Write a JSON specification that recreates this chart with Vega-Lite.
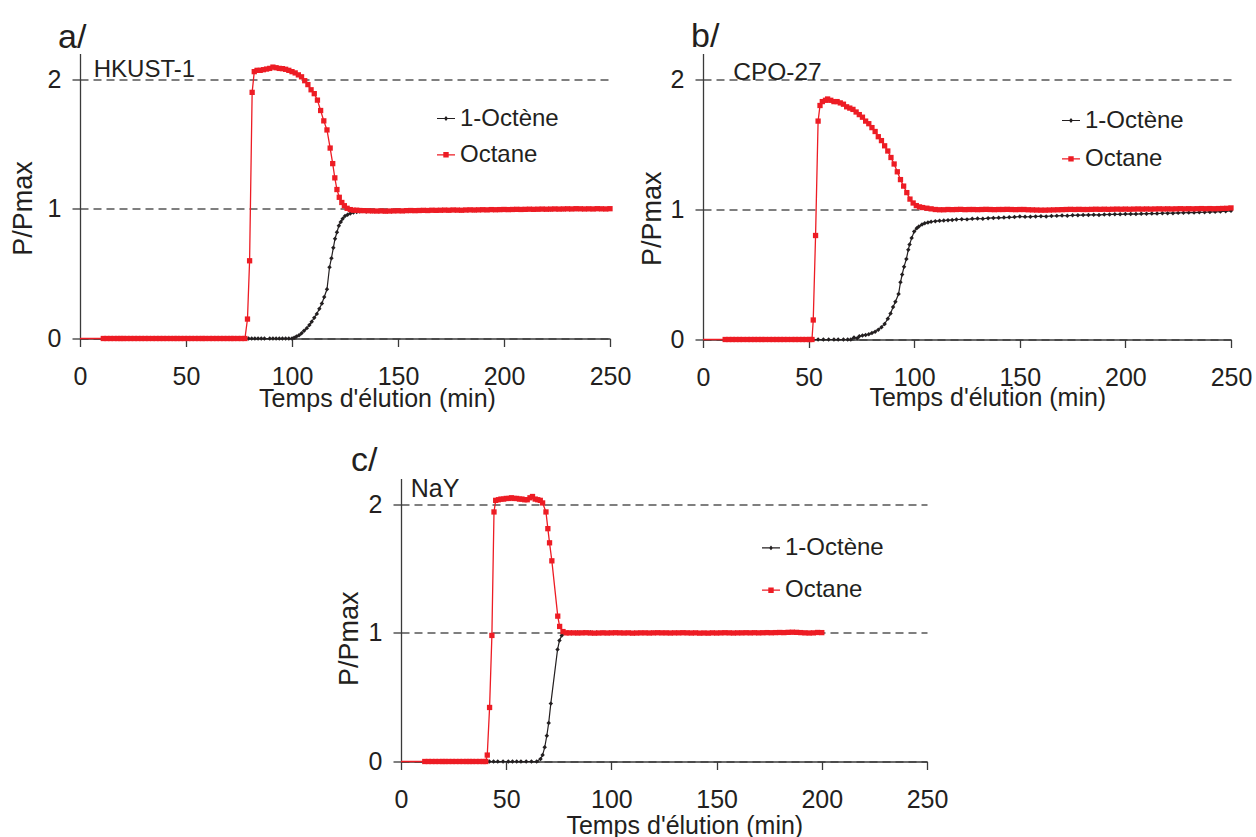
{
  "$schema": "https://vega.github.io/schema/vega-lite/v6.json",
  "padding": {"left": 9, "top": 19.5, "right": 5, "bottom": 0},
  "background": "white",
  "config": {
    "view": {"stroke": null},
    "font": "Liberation Sans",
    "axis": {
      "domainColor": "#3a3a3a", "domainWidth": 1.3,
      "tickColor": "#3a3a3a", "tickWidth": 1.3, "tickSize": 8,
      "labelFont": "Liberation Sans", "labelFontSize": 25, "labelColor": "#231f20",
      "labelFlush": false, "labelOverlap": false,
      "titleFont": "Liberation Sans", "titleFontWeight": "normal", "titleColor": "#231f20",
      "grid": false,
      "gridColor": "#000000", "gridDash": [8, 5], "gridWidth": 1.2, "gridOpacity": 1
    },
    "axisX": {"labelPadding": 18, "titleFontSize": 25, "titleBaseline": "top", "titleAlign": "center"},
    "axisY": {"labelPadding": 11, "titleFontSize": 27, "titleBaseline": "bottom", "titleAlign": "center", "titleAngle": 270},
    "legend": {"symbolStrokeWidth": 0, "padding": 0, "labelFont": "Liberation Sans", "labelFontSize": 24, "labelColor": "#231f20", "labelOffset": 2, "symbolSize": 324, "labelLimit": 300},
    "title": {"font": "Liberation Sans", "fontWeight": "normal", "fontSize": 34, "color": "#231f20", "anchor": "start", "frame": "group", "baseline": "alphabetic"}
  },
  "datasets": {
    "a": [
      {"s":"Octane","x":0,"y":0},
      {"s":"Octane","x":11,"y":0},{"s":"Octane","x":12.7,"y":0},{"s":"Octane","x":14.4,"y":0},{"s":"Octane","x":16.1,"y":0},{"s":"Octane","x":17.8,"y":0},{"s":"Octane","x":19.2,"y":0},
      {"s":"Octane","x":20.5,"y":0},{"s":"Octane","x":22.2,"y":0},{"s":"Octane","x":23.9,"y":0},{"s":"Octane","x":25.6,"y":0},{"s":"Octane","x":27.3,"y":0},{"s":"Octane","x":29,"y":0},{"s":"Octane","x":30.7,"y":0},{"s":"Octane","x":32.3,"y":0},
      {"s":"Octane","x":34.2,"y":0},{"s":"Octane","x":35.9,"y":0},{"s":"Octane","x":37.6,"y":0},{"s":"Octane","x":39.3,"y":0},{"s":"Octane","x":41,"y":0},{"s":"Octane","x":42.7,"y":0},{"s":"Octane","x":44.4,"y":0},{"s":"Octane","x":45.8,"y":0},
      {"s":"Octane","x":47.5,"y":0},{"s":"Octane","x":49.2,"y":0},{"s":"Octane","x":50.9,"y":0},{"s":"Octane","x":52.6,"y":0},{"s":"Octane","x":54.3,"y":0},{"s":"Octane","x":56,"y":0},{"s":"Octane","x":57.7,"y":0},{"s":"Octane","x":59,"y":0},
      {"s":"Octane","x":61,"y":0},{"s":"Octane","x":62.7,"y":0},{"s":"Octane","x":64.4,"y":0},{"s":"Octane","x":66.1,"y":0},{"s":"Octane","x":67.8,"y":0},{"s":"Octane","x":69.5,"y":0},{"s":"Octane","x":71.2,"y":0},{"s":"Octane","x":72.5,"y":0},
      {"s":"Octane","x":74.4,"y":0},{"s":"Octane","x":76.1,"y":0},{"s":"Octane","x":77.8,"y":0},
      {"s":"Octane","x":79,"y":0.15},{"s":"Octane","x":80,"y":0.6},{"s":"Octane","x":81.2,"y":1.9},{"s":"Octane","x":82.2,"y":2.06},{"s":"Octane","x":83.5,"y":2.07},{"s":"Octane","x":85,"y":2.07},
      {"s":"Octane","x":86.5,"y":2.075},{"s":"Octane","x":88,"y":2.08},{"s":"Octane","x":89.5,"y":2.085},{"s":"Octane","x":91,"y":2.095},{"s":"Octane","x":92.5,"y":2.09},{"s":"Octane","x":94,"y":2.085},
      {"s":"Octane","x":95.5,"y":2.083},{"s":"Octane","x":97,"y":2.078},{"s":"Octane","x":98.5,"y":2.07},{"s":"Octane","x":100,"y":2.06},{"s":"Octane","x":101.5,"y":2.05},{"s":"Octane","x":103,"y":2.035},
      {"s":"Octane","x":104.5,"y":2.02},{"s":"Octane","x":106,"y":1.99},{"s":"Octane","x":107.5,"y":1.96},{"s":"Octane","x":109,"y":1.92},{"s":"Octane","x":110.5,"y":1.89},{"s":"Octane","x":112,"y":1.84},
      {"s":"Octane","x":113.5,"y":1.76},{"s":"Octane","x":115,"y":1.68},{"s":"Octane","x":116.5,"y":1.61},{"s":"Octane","x":118,"y":1.47},{"s":"Octane","x":119.2,"y":1.35},{"s":"Octane","x":120.2,"y":1.24},
      {"s":"Octane","x":121.2,"y":1.15},{"s":"Octane","x":122.3,"y":1.09},{"s":"Octane","x":123.5,"y":1.05},{"s":"Octane","x":124.7,"y":1.025},{"s":"Octane","x":126,"y":1.005},{"s":"Octane","x":127.5,"y":0.995},
      {"s":"Octane","x":129,"y":0.99},{"s":"Octane","x":130.5,"y":0.99},
      {"s":"Octane","x":132,"y":0.988},{"s":"Octane","x":134,"y":0.987},{"s":"Octane","x":136,"y":0.986},{"s":"Octane","x":138,"y":0.985},{"s":"Octane","x":140,"y":0.984},{"s":"Octane","x":142,"y":0.985},
      {"s":"Octane","x":144,"y":0.983},{"s":"Octane","x":146,"y":0.984},{"s":"Octane","x":148,"y":0.985},{"s":"Octane","x":150,"y":0.986},{"s":"Octane","x":152,"y":0.985},{"s":"Octane","x":154,"y":0.987},
      {"s":"Octane","x":156,"y":0.988},{"s":"Octane","x":158,"y":0.987},{"s":"Octane","x":160,"y":0.988},{"s":"Octane","x":162,"y":0.989},{"s":"Octane","x":164,"y":0.988},{"s":"Octane","x":166,"y":0.99},
      {"s":"Octane","x":168,"y":0.989},{"s":"Octane","x":170,"y":0.99},{"s":"Octane","x":172,"y":0.991},{"s":"Octane","x":174,"y":0.99},{"s":"Octane","x":176,"y":0.992},{"s":"Octane","x":178,"y":0.991},
      {"s":"Octane","x":180,"y":0.99},{"s":"Octane","x":182,"y":0.992},{"s":"Octane","x":184,"y":0.993},{"s":"Octane","x":186,"y":0.992},{"s":"Octane","x":188,"y":0.993},{"s":"Octane","x":190,"y":0.994},
      {"s":"Octane","x":192,"y":0.993},{"s":"Octane","x":194,"y":0.995},{"s":"Octane","x":196,"y":0.994},{"s":"Octane","x":198,"y":0.995},{"s":"Octane","x":200,"y":0.996},{"s":"Octane","x":202,"y":0.995},
      {"s":"Octane","x":204,"y":0.996},{"s":"Octane","x":206,"y":0.997},{"s":"Octane","x":208,"y":0.996},{"s":"Octane","x":210,"y":0.997},{"s":"Octane","x":212,"y":0.998},{"s":"Octane","x":214,"y":0.997},
      {"s":"Octane","x":216,"y":0.998},{"s":"Octane","x":218,"y":0.999},{"s":"Octane","x":220,"y":0.998},{"s":"Octane","x":222,"y":0.999},{"s":"Octane","x":224,"y":1.0},{"s":"Octane","x":226,"y":0.999},
      {"s":"Octane","x":228,"y":1.0},{"s":"Octane","x":230,"y":1.001},{"s":"Octane","x":232,"y":1.0},{"s":"Octane","x":234,"y":1.002},{"s":"Octane","x":236,"y":1.001},{"s":"Octane","x":238,"y":1.0},
      {"s":"Octane","x":240,"y":1.001},{"s":"Octane","x":242,"y":1.0},{"s":"Octane","x":244,"y":1.002},{"s":"Octane","x":246,"y":1.001},{"s":"Octane","x":248,"y":1.0},{"s":"Octane","x":250,"y":1.002},
      {"s":"1-Octène","x":0,"y":0},
      {"s":"1-Octène","x":12,"y":0},{"s":"1-Octène","x":16,"y":0},{"s":"1-Octène","x":20,"y":0},{"s":"1-Octène","x":24,"y":0},{"s":"1-Octène","x":28,"y":0},{"s":"1-Octène","x":32,"y":0},
      {"s":"1-Octène","x":36,"y":0},{"s":"1-Octène","x":40,"y":0},{"s":"1-Octène","x":44,"y":0},{"s":"1-Octène","x":48,"y":0},{"s":"1-Octène","x":52,"y":0},{"s":"1-Octène","x":56,"y":0},
      {"s":"1-Octène","x":60,"y":0},{"s":"1-Octène","x":64,"y":0},{"s":"1-Octène","x":68,"y":0},{"s":"1-Octène","x":72,"y":0},{"s":"1-Octène","x":76,"y":0},
      {"s":"1-Octène","x":79.5,"y":0},{"s":"1-Octène","x":81,"y":0},{"s":"1-Octène","x":82.5,"y":0},{"s":"1-Octène","x":84,"y":0},{"s":"1-Octène","x":85.5,"y":0},{"s":"1-Octène","x":87,"y":0},
      {"s":"1-Octène","x":89.5,"y":0},{"s":"1-Octène","x":91,"y":0},{"s":"1-Octène","x":92.5,"y":0},{"s":"1-Octène","x":94,"y":0},{"s":"1-Octène","x":95.5,"y":0},{"s":"1-Octène","x":97,"y":0},
      {"s":"1-Octène","x":98.5,"y":0},{"s":"1-Octène","x":100,"y":0},
      {"s":"1-Octène","x":101,"y":0.005},{"s":"1-Octène","x":102.1,"y":0.015},{"s":"1-Octène","x":103.3,"y":0.025},{"s":"1-Octène","x":104.5,"y":0.04},{"s":"1-Octène","x":105.7,"y":0.06},
      {"s":"1-Octène","x":107,"y":0.08},{"s":"1-Octène","x":108.2,"y":0.105},{"s":"1-Octène","x":109.3,"y":0.13},{"s":"1-Octène","x":110.5,"y":0.16},{"s":"1-Octène","x":111.7,"y":0.19},
      {"s":"1-Octène","x":112.9,"y":0.23},{"s":"1-Octène","x":114.1,"y":0.27},{"s":"1-Octène","x":115.2,"y":0.32},{"s":"1-Octène","x":116.5,"y":0.38},{"s":"1-Octène","x":117.7,"y":0.55},
      {"s":"1-Octène","x":118.6,"y":0.62},{"s":"1-Octène","x":119.5,"y":0.7},{"s":"1-Octène","x":120.3,"y":0.77},{"s":"1-Octène","x":121.2,"y":0.82},{"s":"1-Octène","x":122.1,"y":0.87},
      {"s":"1-Octène","x":123,"y":0.9},{"s":"1-Octène","x":123.9,"y":0.925},{"s":"1-Octène","x":125,"y":0.945},{"s":"1-Octène","x":126.2,"y":0.955},{"s":"1-Octène","x":127.5,"y":0.965},
      {"s":"1-Octène","x":129,"y":0.972},{"s":"1-Octène","x":130.5,"y":0.977},{"s":"1-Octène","x":132,"y":0.98},
      {"s":"1-Octène","x":135,"y":0.981},{"s":"1-Octène","x":138,"y":0.982},{"s":"1-Octène","x":141,"y":0.982},{"s":"1-Octène","x":144,"y":0.983},{"s":"1-Octène","x":147,"y":0.983},
      {"s":"1-Octène","x":150,"y":0.984},{"s":"1-Octène","x":153,"y":0.984},{"s":"1-Octène","x":156,"y":0.985},{"s":"1-Octène","x":159,"y":0.986},{"s":"1-Octène","x":162,"y":0.986},
      {"s":"1-Octène","x":165,"y":0.987},{"s":"1-Octène","x":168,"y":0.987},{"s":"1-Octène","x":171,"y":0.988},{"s":"1-Octène","x":174,"y":0.988},{"s":"1-Octène","x":177,"y":0.989},
      {"s":"1-Octène","x":180,"y":0.989},{"s":"1-Octène","x":183,"y":0.99},{"s":"1-Octène","x":186,"y":0.99},{"s":"1-Octène","x":189,"y":0.991},{"s":"1-Octène","x":192,"y":0.991},
      {"s":"1-Octène","x":195,"y":0.992},{"s":"1-Octène","x":198,"y":0.992},{"s":"1-Octène","x":201,"y":0.993},{"s":"1-Octène","x":204,"y":0.993},{"s":"1-Octène","x":207,"y":0.994},
      {"s":"1-Octène","x":210,"y":0.994},{"s":"1-Octène","x":213,"y":0.995},{"s":"1-Octène","x":216,"y":0.995},{"s":"1-Octène","x":219,"y":0.996},{"s":"1-Octène","x":222,"y":0.996},
      {"s":"1-Octène","x":225,"y":0.997},{"s":"1-Octène","x":228,"y":0.997},{"s":"1-Octène","x":231,"y":0.998},{"s":"1-Octène","x":234,"y":0.998},{"s":"1-Octène","x":237,"y":0.999},
      {"s":"1-Octène","x":240,"y":0.999},{"s":"1-Octène","x":243,"y":1.0},{"s":"1-Octène","x":246,"y":1.0},{"s":"1-Octène","x":249,"y":1.0}
    ],
    "b": [
      {"s":"Octane","x":0,"y":0},
      {"s":"Octane","x":10.5,"y":0},{"s":"Octane","x":12.2,"y":0},{"s":"Octane","x":13.9,"y":0},{"s":"Octane","x":15.6,"y":0},{"s":"Octane","x":17.3,"y":0},{"s":"Octane","x":19,"y":0},
      {"s":"Octane","x":21,"y":0},{"s":"Octane","x":22.7,"y":0},{"s":"Octane","x":24.4,"y":0},{"s":"Octane","x":26.1,"y":0},{"s":"Octane","x":27.8,"y":0},{"s":"Octane","x":29.5,"y":0},
      {"s":"Octane","x":31.5,"y":0},{"s":"Octane","x":33.2,"y":0},{"s":"Octane","x":34.9,"y":0},{"s":"Octane","x":36.6,"y":0},{"s":"Octane","x":38.3,"y":0},{"s":"Octane","x":40,"y":0},
      {"s":"Octane","x":42,"y":0},{"s":"Octane","x":43.7,"y":0},{"s":"Octane","x":45.4,"y":0},{"s":"Octane","x":47.1,"y":0},{"s":"Octane","x":48.8,"y":0},{"s":"Octane","x":50.5,"y":0},{"s":"Octane","x":51.6,"y":0},
      {"s":"Octane","x":52.2,"y":0.15},{"s":"Octane","x":53.3,"y":0.8},{"s":"Octane","x":54.5,"y":1.68},{"s":"Octane","x":55.4,"y":1.8},{"s":"Octane","x":56.5,"y":1.83},{"s":"Octane","x":58,"y":1.84},
      {"s":"Octane","x":59,"y":1.85},{"s":"Octane","x":60.5,"y":1.84},{"s":"Octane","x":62,"y":1.83},{"s":"Octane","x":63.5,"y":1.83},{"s":"Octane","x":65,"y":1.82},{"s":"Octane","x":66.5,"y":1.81},
      {"s":"Octane","x":68,"y":1.79},{"s":"Octane","x":69.5,"y":1.78},{"s":"Octane","x":71,"y":1.77},{"s":"Octane","x":72.5,"y":1.75},{"s":"Octane","x":74,"y":1.73},{"s":"Octane","x":75.5,"y":1.71},
      {"s":"Octane","x":77,"y":1.68},{"s":"Octane","x":78.5,"y":1.66},{"s":"Octane","x":80,"y":1.63},{"s":"Octane","x":81.5,"y":1.6},{"s":"Octane","x":83,"y":1.56},{"s":"Octane","x":84.5,"y":1.53},
      {"s":"Octane","x":86,"y":1.49},{"s":"Octane","x":87.5,"y":1.45},{"s":"Octane","x":89,"y":1.4},{"s":"Octane","x":90.5,"y":1.35},{"s":"Octane","x":92,"y":1.29},{"s":"Octane","x":93.5,"y":1.23},
      {"s":"Octane","x":95,"y":1.18},{"s":"Octane","x":96.5,"y":1.13},{"s":"Octane","x":98,"y":1.08},{"s":"Octane","x":99.5,"y":1.05},{"s":"Octane","x":101,"y":1.03},{"s":"Octane","x":102.5,"y":1.02},
      {"s":"Octane","x":104,"y":1.015},{"s":"Octane","x":106,"y":1.01},{"s":"Octane","x":108,"y":1.005},{"s":"Octane","x":110,"y":1.0},{"s":"Octane","x":112,"y":0.998},
      {"s":"Octane","x":114,"y":0.998},{"s":"Octane","x":116,"y":1.0},{"s":"Octane","x":118,"y":0.999},{"s":"Octane","x":120,"y":1.0},{"s":"Octane","x":122,"y":1.001},{"s":"Octane","x":124,"y":0.999},
      {"s":"Octane","x":126,"y":1.0},{"s":"Octane","x":128,"y":1.0},{"s":"Octane","x":130,"y":0.999},{"s":"Octane","x":132,"y":1.0},{"s":"Octane","x":134,"y":1.001},{"s":"Octane","x":136,"y":1.0},
      {"s":"Octane","x":138,"y":0.999},{"s":"Octane","x":140,"y":1.0},{"s":"Octane","x":142,"y":1.0},{"s":"Octane","x":144,"y":1.001},{"s":"Octane","x":146,"y":1.0},{"s":"Octane","x":148,"y":0.999},
      {"s":"Octane","x":150,"y":1.0},{"s":"Octane","x":152,"y":1.0},{"s":"Octane","x":154,"y":0.998},{"s":"Octane","x":156,"y":0.997},{"s":"Octane","x":158,"y":0.996},{"s":"Octane","x":160,"y":0.995},
      {"s":"Octane","x":162,"y":0.995},{"s":"Octane","x":164,"y":0.996},{"s":"Octane","x":166,"y":0.997},{"s":"Octane","x":168,"y":0.998},{"s":"Octane","x":170,"y":0.999},{"s":"Octane","x":172,"y":1.0},
      {"s":"Octane","x":174,"y":1.001},{"s":"Octane","x":176,"y":1.0},{"s":"Octane","x":178,"y":1.001},{"s":"Octane","x":180,"y":1.0},{"s":"Octane","x":182,"y":1.0},{"s":"Octane","x":184,"y":1.001},
      {"s":"Octane","x":186,"y":1.002},{"s":"Octane","x":188,"y":1.001},{"s":"Octane","x":190,"y":1.002},{"s":"Octane","x":192,"y":1.001},{"s":"Octane","x":194,"y":1.002},{"s":"Octane","x":196,"y":1.003},
      {"s":"Octane","x":198,"y":1.002},{"s":"Octane","x":200,"y":1.003},{"s":"Octane","x":202,"y":1.002},{"s":"Octane","x":204,"y":1.003},{"s":"Octane","x":206,"y":1.004},{"s":"Octane","x":208,"y":1.003},
      {"s":"Octane","x":210,"y":1.004},{"s":"Octane","x":212,"y":1.003},{"s":"Octane","x":214,"y":1.004},{"s":"Octane","x":216,"y":1.005},{"s":"Octane","x":218,"y":1.004},{"s":"Octane","x":220,"y":1.005},
      {"s":"Octane","x":222,"y":1.004},{"s":"Octane","x":224,"y":1.005},{"s":"Octane","x":226,"y":1.006},{"s":"Octane","x":228,"y":1.005},{"s":"Octane","x":230,"y":1.006},{"s":"Octane","x":232,"y":1.005},
      {"s":"Octane","x":234,"y":1.006},{"s":"Octane","x":236,"y":1.007},{"s":"Octane","x":238,"y":1.006},{"s":"Octane","x":240,"y":1.007},{"s":"Octane","x":242,"y":1.006},{"s":"Octane","x":244,"y":1.007},
      {"s":"Octane","x":246,"y":1.008},{"s":"Octane","x":248,"y":1.009},{"s":"Octane","x":250,"y":1.012},
      {"s":"1-Octène","x":0,"y":0},
      {"s":"1-Octène","x":12,"y":0},{"s":"1-Octène","x":16,"y":0},{"s":"1-Octène","x":20,"y":0},{"s":"1-Octène","x":24,"y":0},{"s":"1-Octène","x":28,"y":0},{"s":"1-Octène","x":32,"y":0},
      {"s":"1-Octène","x":36,"y":0},{"s":"1-Octène","x":40,"y":0},{"s":"1-Octène","x":44,"y":0},{"s":"1-Octène","x":48,"y":0},{"s":"1-Octène","x":52,"y":0},
      {"s":"1-Octène","x":54.5,"y":0},{"s":"1-Octène","x":57,"y":0},{"s":"1-Octène","x":59.5,"y":0},{"s":"1-Octène","x":62,"y":0},{"s":"1-Octène","x":64,"y":0},{"s":"1-Octène","x":66.5,"y":0},
      {"s":"1-Octène","x":68.5,"y":0},{"s":"1-Octène","x":70,"y":0},{"s":"1-Octène","x":71.5,"y":0.015},{"s":"1-Octène","x":73,"y":0.01},{"s":"1-Octène","x":74,"y":0.025},{"s":"1-Octène","x":75.5,"y":0.03},
      {"s":"1-Octène","x":77,"y":0.035},{"s":"1-Octène","x":78.5,"y":0.04},{"s":"1-Octène","x":80,"y":0.05},{"s":"1-Octène","x":81.5,"y":0.06},{"s":"1-Octène","x":83,"y":0.075},{"s":"1-Octène","x":84.5,"y":0.095},
      {"s":"1-Octène","x":86,"y":0.12},{"s":"1-Octène","x":87.5,"y":0.16},{"s":"1-Octène","x":88.8,"y":0.2},{"s":"1-Octène","x":90,"y":0.25},{"s":"1-Octène","x":91.1,"y":0.29},{"s":"1-Octène","x":92.6,"y":0.35},
      {"s":"1-Octène","x":93.5,"y":0.44},{"s":"1-Octène","x":94.3,"y":0.5},{"s":"1-Octène","x":95.2,"y":0.56},{"s":"1-Octène","x":96.3,"y":0.62},{"s":"1-Octène","x":97.2,"y":0.69},{"s":"1-Octène","x":97.8,"y":0.73},
      {"s":"1-Octène","x":98.8,"y":0.78},{"s":"1-Octène","x":100,"y":0.83},{"s":"1-Octène","x":101.2,"y":0.855},{"s":"1-Octène","x":102.2,"y":0.87},{"s":"1-Octène","x":103.7,"y":0.885},{"s":"1-Octène","x":105,"y":0.895},
      {"s":"1-Octène","x":106.5,"y":0.9},{"s":"1-Octène","x":108,"y":0.905},{"s":"1-Octène","x":110,"y":0.91},{"s":"1-Octène","x":112,"y":0.913},{"s":"1-Octène","x":114,"y":0.915},{"s":"1-Octène","x":116,"y":0.918},
      {"s":"1-Octène","x":118,"y":0.92},{"s":"1-Octène","x":120,"y":0.923},
      {"s":"1-Octène","x":122.5,"y":0.925},{"s":"1-Octène","x":125,"y":0.924},{"s":"1-Octène","x":127.5,"y":0.928},{"s":"1-Octène","x":130,"y":0.93},{"s":"1-Octène","x":132.5,"y":0.929},{"s":"1-Octène","x":135,"y":0.933},
      {"s":"1-Octène","x":137.5,"y":0.935},{"s":"1-Octène","x":140,"y":0.936},{"s":"1-Octène","x":142.5,"y":0.938},{"s":"1-Octène","x":145,"y":0.94},{"s":"1-Octène","x":147.5,"y":0.942},{"s":"1-Octène","x":150,"y":0.946},
      {"s":"1-Octène","x":152.5,"y":0.944},{"s":"1-Octène","x":155,"y":0.945},{"s":"1-Octène","x":157.5,"y":0.947},{"s":"1-Octène","x":160,"y":0.948},{"s":"1-Octène","x":162.5,"y":0.947},{"s":"1-Octène","x":165,"y":0.95},
      {"s":"1-Octène","x":167.5,"y":0.951},{"s":"1-Octène","x":170,"y":0.953},{"s":"1-Octène","x":172.5,"y":0.952},{"s":"1-Octène","x":175,"y":0.955},{"s":"1-Octène","x":177.5,"y":0.956},{"s":"1-Octène","x":180,"y":0.957},
      {"s":"1-Octène","x":182.5,"y":0.958},{"s":"1-Octène","x":185,"y":0.959},{"s":"1-Octène","x":187.5,"y":0.958},{"s":"1-Octène","x":190,"y":0.961},{"s":"1-Octène","x":192.5,"y":0.962},{"s":"1-Octène","x":195,"y":0.963},
      {"s":"1-Octène","x":197.5,"y":0.963},{"s":"1-Octène","x":200,"y":0.965},{"s":"1-Octène","x":202.5,"y":0.966},{"s":"1-Octène","x":205,"y":0.965},{"s":"1-Octène","x":207.5,"y":0.967},{"s":"1-Octène","x":210,"y":0.968},
      {"s":"1-Octène","x":212.5,"y":0.969},{"s":"1-Octène","x":215,"y":0.969},{"s":"1-Octène","x":217.5,"y":0.971},{"s":"1-Octène","x":220,"y":0.972},{"s":"1-Octène","x":222.5,"y":0.972},{"s":"1-Octène","x":225,"y":0.974},
      {"s":"1-Octène","x":227.5,"y":0.975},{"s":"1-Octène","x":230,"y":0.976},{"s":"1-Octène","x":232.5,"y":0.976},{"s":"1-Octène","x":235,"y":0.978},{"s":"1-Octène","x":237.5,"y":0.979},{"s":"1-Octène","x":240,"y":0.981},
      {"s":"1-Octène","x":242.5,"y":0.982},{"s":"1-Octène","x":245,"y":0.984},{"s":"1-Octène","x":247.5,"y":0.987},{"s":"1-Octène","x":250,"y":0.99}
    ],
    "c": [
      {"s":"Octane","x":0,"y":0},
      {"s":"Octane","x":11.3,"y":0},{"s":"Octane","x":13,"y":0},{"s":"Octane","x":14.7,"y":0},{"s":"Octane","x":16.4,"y":0},{"s":"Octane","x":18.1,"y":0},{"s":"Octane","x":19.8,"y":0},
      {"s":"Octane","x":21,"y":0},{"s":"Octane","x":22.7,"y":0},{"s":"Octane","x":24.4,"y":0},{"s":"Octane","x":26.1,"y":0},{"s":"Octane","x":27.8,"y":0},{"s":"Octane","x":29.5,"y":0},{"s":"Octane","x":31.2,"y":0},{"s":"Octane","x":32.5,"y":0},
      {"s":"Octane","x":34,"y":0},{"s":"Octane","x":35.7,"y":0},{"s":"Octane","x":37.4,"y":0},{"s":"Octane","x":39.1,"y":0},{"s":"Octane","x":40.3,"y":0},
      {"s":"Octane","x":41,"y":0.05},{"s":"Octane","x":42.1,"y":0.42},{"s":"Octane","x":43.2,"y":0.98},{"s":"Octane","x":44.2,"y":1.94},{"s":"Octane","x":45,"y":2.03},{"s":"Octane","x":46.3,"y":2.035},
      {"s":"Octane","x":47.5,"y":2.04},{"s":"Octane","x":48.8,"y":2.04},{"s":"Octane","x":50,"y":2.045},{"s":"Octane","x":51.3,"y":2.045},{"s":"Octane","x":52.5,"y":2.05},{"s":"Octane","x":53.8,"y":2.045},
      {"s":"Octane","x":55,"y":2.045},{"s":"Octane","x":56.3,"y":2.04},{"s":"Octane","x":57.5,"y":2.04},{"s":"Octane","x":58.8,"y":2.035},{"s":"Octane","x":60,"y":2.035},{"s":"Octane","x":61.3,"y":2.05},
      {"s":"Octane","x":62.5,"y":2.06},{"s":"Octane","x":63.8,"y":2.04},{"s":"Octane","x":65,"y":2.035},{"s":"Octane","x":66.2,"y":2.03},{"s":"Octane","x":67.3,"y":2.01},{"s":"Octane","x":68.9,"y":1.94},
      {"s":"Octane","x":69.8,"y":1.81},{"s":"Octane","x":70.6,"y":1.7},{"s":"Octane","x":71.7,"y":1.56},{"s":"Octane","x":74.5,"y":1.13},{"s":"Octane","x":75.4,"y":1.05},{"s":"Octane","x":77,"y":1.01},
      {"s":"Octane","x":78.5,"y":1.0},{"s":"Octane","x":80,"y":1.0},
      {"s":"Octane","x":82,"y":1.0},{"s":"Octane","x":84,"y":0.999},{"s":"Octane","x":86,"y":1.0},{"s":"Octane","x":88,"y":1.001},{"s":"Octane","x":90,"y":0.999},{"s":"Octane","x":92,"y":0.998},
      {"s":"Octane","x":94,"y":0.999},{"s":"Octane","x":96,"y":1.0},{"s":"Octane","x":98,"y":0.999},{"s":"Octane","x":100,"y":1.0},{"s":"Octane","x":102,"y":1.001},{"s":"Octane","x":104,"y":1.0},
      {"s":"Octane","x":106,"y":0.999},{"s":"Octane","x":108,"y":1.0},{"s":"Octane","x":110,"y":0.998},{"s":"Octane","x":112,"y":0.999},{"s":"Octane","x":114,"y":1.0},{"s":"Octane","x":116,"y":1.0},
      {"s":"Octane","x":118,"y":0.999},{"s":"Octane","x":120,"y":1.0},{"s":"Octane","x":122,"y":1.001},{"s":"Octane","x":124,"y":1.0},{"s":"Octane","x":126,"y":1.0},{"s":"Octane","x":128,"y":0.999},
      {"s":"Octane","x":130,"y":1.0},{"s":"Octane","x":132,"y":1.0},{"s":"Octane","x":134,"y":1.001},{"s":"Octane","x":136,"y":1.0},{"s":"Octane","x":138,"y":0.999},{"s":"Octane","x":140,"y":1.0},
      {"s":"Octane","x":142,"y":0.998},{"s":"Octane","x":144,"y":0.999},{"s":"Octane","x":146,"y":0.998},{"s":"Octane","x":148,"y":1.0},{"s":"Octane","x":150,"y":0.999},{"s":"Octane","x":152,"y":1.0},
      {"s":"Octane","x":154,"y":1.001},{"s":"Octane","x":156,"y":1.0},{"s":"Octane","x":158,"y":0.999},{"s":"Octane","x":160,"y":1.0},{"s":"Octane","x":162,"y":1.0},{"s":"Octane","x":164,"y":1.001},
      {"s":"Octane","x":166,"y":1.0},{"s":"Octane","x":168,"y":1.001},{"s":"Octane","x":170,"y":1.0},{"s":"Octane","x":172,"y":1.001},{"s":"Octane","x":174,"y":1.002},{"s":"Octane","x":176,"y":1.001},
      {"s":"Octane","x":178,"y":1.002},{"s":"Octane","x":180,"y":1.003},{"s":"Octane","x":182,"y":1.002},{"s":"Octane","x":184,"y":1.004},{"s":"Octane","x":186,"y":1.005},{"s":"Octane","x":188,"y":1.004},
      {"s":"Octane","x":190,"y":1.002},{"s":"Octane","x":192,"y":1.0},{"s":"Octane","x":194,"y":0.999},{"s":"Octane","x":196,"y":1.0},{"s":"Octane","x":198,"y":1.003},{"s":"Octane","x":200,"y":1.002},
      {"s":"1-Octène","x":0,"y":0},
      {"s":"1-Octène","x":12,"y":0},{"s":"1-Octène","x":16,"y":0},{"s":"1-Octène","x":20,"y":0},{"s":"1-Octène","x":24,"y":0},{"s":"1-Octène","x":28,"y":0},{"s":"1-Octène","x":32,"y":0},
      {"s":"1-Octène","x":36,"y":0},{"s":"1-Octène","x":40,"y":0},
      {"s":"1-Octène","x":42,"y":0},{"s":"1-Octène","x":44,"y":0},{"s":"1-Octène","x":46,"y":0},{"s":"1-Octène","x":48.5,"y":0},{"s":"1-Octène","x":51,"y":0},{"s":"1-Octène","x":53,"y":0},
      {"s":"1-Octène","x":55,"y":0},{"s":"1-Octène","x":57,"y":0},{"s":"1-Octène","x":59.5,"y":0},{"s":"1-Octène","x":62,"y":0},{"s":"1-Octène","x":64.5,"y":0},
      {"s":"1-Octène","x":66.3,"y":0.02},{"s":"1-Octène","x":67.3,"y":0.05},{"s":"1-Octène","x":68.3,"y":0.11},{"s":"1-Octène","x":69.3,"y":0.2},{"s":"1-Octène","x":70.2,"y":0.3},{"s":"1-Octène","x":71.2,"y":0.45},
      {"s":"1-Octène","x":74.4,"y":0.87},{"s":"1-Octène","x":75.3,"y":0.94},{"s":"1-Octène","x":76.4,"y":0.98},{"s":"1-Octène","x":77.8,"y":1.0},{"s":"1-Octène","x":79,"y":1.0},
      {"s":"1-Octène","x":81,"y":1.003},{"s":"1-Octène","x":84,"y":1.004},{"s":"1-Octène","x":87,"y":1.005},{"s":"1-Octène","x":90,"y":1.004},{"s":"1-Octène","x":93,"y":1.003},{"s":"1-Octène","x":96,"y":1.002},
      {"s":"1-Octène","x":99,"y":1.001},{"s":"1-Octène","x":102,"y":1.0},{"s":"1-Octène","x":105,"y":1.001},{"s":"1-Octène","x":108,"y":1.0},{"s":"1-Octène","x":111,"y":0.999},{"s":"1-Octène","x":114,"y":1.0},
      {"s":"1-Octène","x":117,"y":1.0},{"s":"1-Octène","x":120,"y":1.001},{"s":"1-Octène","x":123,"y":1.0},{"s":"1-Octène","x":126,"y":0.999},{"s":"1-Octène","x":129,"y":1.0},{"s":"1-Octène","x":132,"y":1.0},
      {"s":"1-Octène","x":135,"y":1.001},{"s":"1-Octène","x":138,"y":1.0},{"s":"1-Octène","x":141,"y":0.999},{"s":"1-Octène","x":144,"y":1.0},{"s":"1-Octène","x":147,"y":1.0},{"s":"1-Octène","x":150,"y":1.0},
      {"s":"1-Octène","x":153,"y":1.001},{"s":"1-Octène","x":156,"y":1.0},{"s":"1-Octène","x":159,"y":1.0},{"s":"1-Octène","x":162,"y":1.001},{"s":"1-Octène","x":165,"y":1.0},{"s":"1-Octène","x":168,"y":1.001},
      {"s":"1-Octène","x":171,"y":1.001},{"s":"1-Octène","x":174,"y":1.002},{"s":"1-Octène","x":177,"y":1.002},{"s":"1-Octène","x":180,"y":1.003},{"s":"1-Octène","x":183,"y":1.003},{"s":"1-Octène","x":186,"y":1.004},
      {"s":"1-Octène","x":189,"y":1.003},{"s":"1-Octène","x":192,"y":1.001},{"s":"1-Octène","x":195,"y":1.0},{"s":"1-Octène","x":198,"y":1.002},{"s":"1-Octène","x":200,"y":1.002}
    ]
  },
  "vconcat": [
    {
      "hconcat": [
        {
          "width": 530, "height": 285,
          "title": {"text": "a/", "dx": -22, "offset": -1.2},
          "data": {"name": "a"},
          "encoding": {
            "x": {"field": "x", "type": "quantitative", "title": "Temps d'élution (min)", "scale": {"domain": [0, 250], "nice": false, "zero": false}, "axis": {"values": [0, 50, 100, 150, 200, 250], "titleX": 297, "titleY": 48}},
            "y": {"field": "y", "type": "quantitative", "title": "P/Pmax", "scale": {"domain": [0, 2.2], "nice": false}, "axis": {"values": [0, 1, 2], "grid": true, "titleX": -42.3, "titleY": 154.5}},
            "color": {"field": "s", "type": "nominal", "scale": {"domain": ["1-Octène", "Octane"], "range": ["#231f20", "#ed1c24"]},
              "legend": {"title": null, "orient": "none", "legendX": 354, "legendY": 53, "rowPadding": 12.3,
                "encode": {"symbols": {"update": {
                  "shape": {"signal": "datum.value === 'Octane' ? 'M-1,-0.07H1V0.07H-1Z M-0.3,-0.3H0.3V0.3H-0.3Z' : 'M-1,-0.06H1V0.06H-1Z M0,-0.27L0.22,0L0,0.27L-0.22,0Z'"},
                  "fill": {"signal": "datum.value === 'Octane' ? '#ed1c24' : '#231f20'"},
                  "stroke": {"value": "transparent"}, "strokeWidth": {"value": 0}, "opacity": {"value": 1}}}}}}
          },
          "layer": [
            {"transform": [{"filter": "datum.s === '1-Octène'"}], "mark": {"type": "line", "strokeWidth": 1.2}},
            {"transform": [{"filter": "datum.s === '1-Octène' && datum.x > 0"}], "mark": {"type": "point", "shape": "diamond", "filled": true, "size": 20, "opacity": 1}},
            {"transform": [{"filter": "datum.s === 'Octane'"}], "mark": {"type": "line", "strokeWidth": 1.3}},
            {"transform": [{"filter": "datum.s === 'Octane' && datum.x > 0"}], "mark": {"type": "point", "shape": "square", "filled": true, "size": 28, "opacity": 1}},
            {"data": {"values": [{"t": "HKUST-1", "x": 6.5, "y": 2.022}]}, "mark": {"type": "text", "align": "left", "baseline": "alphabetic", "fontSize": 24, "font": "Liberation Sans", "color": "#231f20"},
              "encoding": {"text": {"field": "t", "type": "nominal"}, "color": {"value": "#231f20"}}}
          ]
        },
        {
          "width": 528, "height": 286,
          "title": {"text": "b/", "dx": -12, "offset": -0.9},
          "data": {"name": "b"},
          "encoding": {
            "x": {"field": "x", "type": "quantitative", "title": "Temps d'élution (min)", "scale": {"domain": [0, 250], "nice": false, "zero": false}, "axis": {"values": [0, 50, 100, 150, 200, 250], "titleX": 284.3, "titleY": 45.6}},
            "y": {"field": "y", "type": "quantitative", "title": "P/Pmax", "scale": {"domain": [0, 2.2], "nice": false}, "axis": {"values": [0, 1, 2], "grid": true, "titleX": -36.1, "titleY": 164.7}},
            "color": {"field": "s", "type": "nominal", "scale": {"domain": ["1-Octène", "Octane"], "range": ["#231f20", "#ed1c24"]},
              "legend": {"title": null, "orient": "none", "legendX": 356, "legendY": 55, "rowPadding": 14.4,
                "encode": {"symbols": {"update": {
                  "shape": {"signal": "datum.value === 'Octane' ? 'M-1,-0.07H1V0.07H-1Z M-0.3,-0.3H0.3V0.3H-0.3Z' : 'M-1,-0.06H1V0.06H-1Z M0,-0.27L0.22,0L0,0.27L-0.22,0Z'"},
                  "fill": {"signal": "datum.value === 'Octane' ? '#ed1c24' : '#231f20'"},
                  "stroke": {"value": "transparent"}, "strokeWidth": {"value": 0}, "opacity": {"value": 1}}}}}}
          },
          "layer": [
            {"transform": [{"filter": "datum.s === '1-Octène'"}], "mark": {"type": "line", "strokeWidth": 1.2}},
            {"transform": [{"filter": "datum.s === '1-Octène' && datum.x > 0"}], "mark": {"type": "point", "shape": "diamond", "filled": true, "size": 20, "opacity": 1}},
            {"transform": [{"filter": "datum.s === 'Octane'"}], "mark": {"type": "line", "strokeWidth": 1.3}},
            {"transform": [{"filter": "datum.s === 'Octane' && datum.x > 0"}], "mark": {"type": "point", "shape": "square", "filled": true, "size": 28, "opacity": 1}},
            {"data": {"values": [{"t": "CPO-27", "x": 14.3, "y": 1.995}]}, "mark": {"type": "text", "align": "left", "baseline": "alphabetic", "fontSize": 24.5, "font": "Liberation Sans", "color": "#231f20"},
              "encoding": {"text": {"field": "t", "type": "nominal"}, "color": {"value": "#231f20"}}}
          ]
        }
      ],
      "spacing": 93,
      "bounds": "flush",
      "resolve": {"scale": {"x": "independent", "y": "independent", "color": "independent"}, "legend": {"color": "independent"}}
    },
    {
      "hconcat": [
        {"width": 301, "height": 283, "data": {"values": [{"v": 0}]}, "mark": {"type": "text", "text": ""}},
        {
          "width": 526, "height": 283,
          "title": {"text": "c/", "dx": -50, "offset": -0.9},
          "data": {"name": "c"},
          "encoding": {
            "x": {"field": "x", "type": "quantitative", "title": "Temps d'élution (min)", "scale": {"domain": [0, 250], "nice": false, "zero": false}, "axis": {"values": [0, 50, 100, 150, 200, 250], "titleX": 283.3, "titleY": 52}},
            "y": {"field": "y", "type": "quantitative", "title": "P/Pmax", "scale": {"domain": [0, 2.2], "nice": false}, "axis": {"values": [0, 1, 2], "grid": true, "titleX": -38, "titleY": 159.7}},
            "color": {"field": "s", "type": "nominal", "scale": {"domain": ["1-Octène", "Octane"], "range": ["#231f20", "#ed1c24"]},
              "legend": {"title": null, "orient": "none", "legendX": 358, "legendY": 57.4, "rowPadding": 18.3,
                "encode": {"symbols": {"update": {
                  "shape": {"signal": "datum.value === 'Octane' ? 'M-1,-0.07H1V0.07H-1Z M-0.3,-0.3H0.3V0.3H-0.3Z' : 'M-1,-0.06H1V0.06H-1Z M0,-0.27L0.22,0L0,0.27L-0.22,0Z'"},
                  "fill": {"signal": "datum.value === 'Octane' ? '#ed1c24' : '#231f20'"},
                  "stroke": {"value": "transparent"}, "strokeWidth": {"value": 0}, "opacity": {"value": 1}}}}}}
          },
          "layer": [
            {"transform": [{"filter": "datum.s === '1-Octène'"}], "mark": {"type": "line", "strokeWidth": 1.2}},
            {"transform": [{"filter": "datum.s === '1-Octène' && datum.x > 0"}], "mark": {"type": "point", "shape": "diamond", "filled": true, "size": 20, "opacity": 1}},
            {"transform": [{"filter": "datum.s === 'Octane'"}], "mark": {"type": "line", "strokeWidth": 1.3}},
            {"transform": [{"filter": "datum.s === 'Octane' && datum.x > 0"}], "mark": {"type": "point", "shape": "square", "filled": true, "size": 28, "opacity": 1}},
            {"data": {"values": [{"t": "NaY", "x": 4.6, "y": 2.057}]}, "mark": {"type": "text", "align": "left", "baseline": "alphabetic", "fontSize": 25, "font": "Liberation Sans", "color": "#231f20"},
              "encoding": {"text": {"field": "t", "type": "nominal"}, "color": {"value": "#231f20"}}}
          ]
        }
      ],
      "spacing": 20,
      "bounds": "flush",
      "resolve": {"scale": {"x": "independent", "y": "independent", "color": "independent"}, "legend": {"color": "independent"}}
    }
  ],
  "spacing": 425,
  "bounds": "flush",
  "resolve": {"scale": {"x": "independent", "y": "independent", "color": "independent"}, "legend": {"color": "independent"}}
}
